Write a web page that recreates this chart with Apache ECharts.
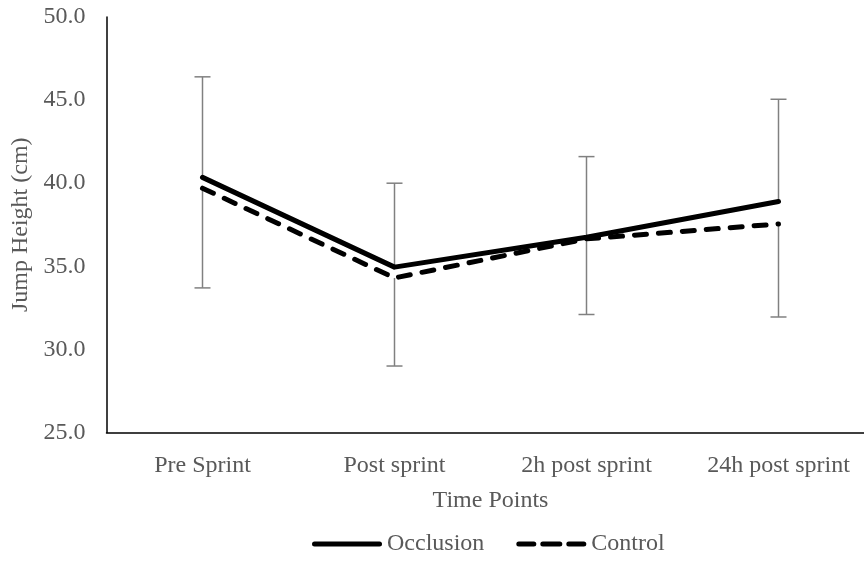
<!DOCTYPE html>
<html>
<head>
<meta charset="utf-8">
<script src="https://cdn.jsdelivr.net/npm/echarts@6/dist/echarts.min.js"></script>
<style>html,body{margin:0;padding:0;background:#fff}#c{width:864px;height:562px}</style>
</head>
<body>
<div id="c"></div>
<script>
var categories = ['Pre Sprint', 'Post sprint', '2h post sprint', '24h post sprint'];
var occlusion = [40.35, 34.95, 36.75, 38.9];
var control = [39.7, 34.3, 36.65, 37.55];
var errHigh = [46.4, 40.0, 41.6, 45.05];
var errLow = [33.7, 29.0, 32.1, 31.95];
var yTicks = { min: 25, max: 50, interval: 5 };

var font = 'Liberation Serif';
var chart = echarts.init(document.getElementById('c'));

var errData = categories.map(function (c, i) {
  return [i, occlusion[i], errHigh[i], control[i], errLow[i]];
});

chart.setOption({
  animation: false,
  backgroundColor: '#fff',
  grid: { left: 106.5, width: 768, top: 17, height: 415.5, containLabel: false, outerBoundsMode: 'none' },
  xAxis: {
    type: 'category',
    data: categories,
    boundaryGap: true,
    name: 'Time Points',
    nameLocation: 'middle',
    nameGap: 56,
    nameTextStyle: { fontFamily: font, fontSize: 24, color: '#595959' },
    axisLine: { lineStyle: { color: '#000', width: 1.5 } },
    axisTick: { show: false },
    axisLabel: { fontFamily: font, fontSize: 24, color: '#595959', margin: 21, interval: 0 }
  },
  yAxis: {
    type: 'value',
    min: yTicks.min, max: yTicks.max, interval: yTicks.interval,
    name: 'Jump Height (cm)',
    nameLocation: 'middle',
    nameGap: 72,
    nameTextStyle: { fontFamily: font, fontSize: 24, color: '#595959' },
    axisLine: { show: true, lineStyle: { color: '#000', width: 1.5 } },
    axisTick: { show: false },
    splitLine: { show: false },
    axisLabel: {
      fontFamily: font, fontSize: 24, color: '#595959', margin: 21,
      formatter: function (v) { return v.toFixed(1); }
    }
  },
  legend: {
    left: 312, top: 532, padding: 0,
    itemWidth: 70, itemHeight: 5, itemGap: 32,
    textStyle: { fontFamily: font, fontSize: 24, color: '#595959' },
    data: [
      { name: 'Occlusion', icon: 'path://M2.5,0H67.5A2.5,2.5,0,0,1,67.5,5H2.5A2.5,2.5,0,0,1,2.5,0Z', itemStyle: { color: '#000' } },
      { name: 'Control', icon: 'path://M2.5,0H17.5A2.5,2.5,0,0,1,17.5,5H2.5A2.5,2.5,0,0,1,2.5,0Z M26.5,0H43.5A2.5,2.5,0,0,1,43.5,5H26.5A2.5,2.5,0,0,1,26.5,0Z M52.5,0H67.5A2.5,2.5,0,0,1,67.5,5H52.5A2.5,2.5,0,0,1,52.5,0Z', itemStyle: { color: '#000' } }
    ]
  },
  series: [
    {
      type: 'custom',
      name: 'err',
      z: 1,
      silent: true,
      data: errData,
      renderItem: function (params, api) {
        var x = api.value(0);
        var pOcc = api.coord([x, api.value(1)]);
        var pHi = api.coord([x, api.value(2)]);
        var pCon = api.coord([x, api.value(3)]);
        var pLo = api.coord([x, api.value(4)]);
        var hw = 8;
        var st = { stroke: '#808080', lineWidth: 1.5 };
        return {
          type: 'group',
          children: [
            { type: 'line', shape: { x1: pHi[0], y1: pHi[1], x2: pOcc[0], y2: pOcc[1] }, style: st },
            { type: 'line', shape: { x1: pHi[0] - hw, y1: pHi[1], x2: pHi[0] + hw, y2: pHi[1] }, style: st },
            { type: 'line', shape: { x1: pLo[0], y1: pLo[1], x2: pCon[0], y2: pCon[1] }, style: st },
            { type: 'line', shape: { x1: pLo[0] - hw, y1: pLo[1], x2: pLo[0] + hw, y2: pLo[1] }, style: st }
          ]
        };
      }
    },
    {
      type: 'line',
      name: 'Occlusion',
      z: 3,
      data: occlusion,
      symbol: 'none',
      lineStyle: { color: '#000', width: 5, cap: 'round', join: 'round' },
      itemStyle: { color: '#000' }
    },
    {
      type: 'line',
      name: 'Control',
      z: 2,
      data: control,
      symbol: 'none',
      lineStyle: { color: '#000', width: 5, type: [12, 12], cap: 'round', join: 'round' },
      itemStyle: { color: '#000' }
    }
  ]
});
</script>
</body>
</html>
